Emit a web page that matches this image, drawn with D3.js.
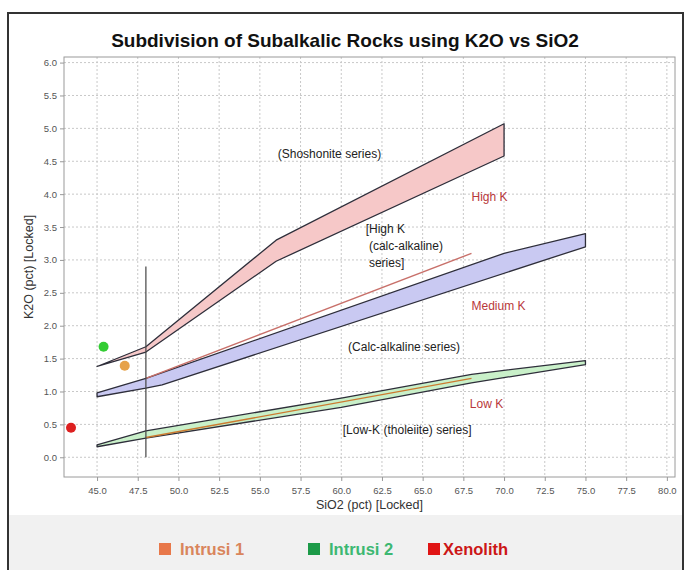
<!DOCTYPE html>
<html>
<head>
<meta charset="utf-8">
<script src="https://cdn.jsdelivr.net/npm/d3@7/dist/d3.min.js"></script>
<style>
  html, body { margin: 0; padding: 0; background: #fff; }
  svg { display: block; font-family: "Liberation Sans", Arial, sans-serif; }
</style>
</head>
<body>
<svg id="chart" width="687" height="570"></svg>
<script>
// Axis ticks
const xTicks = [45, 47.5, 50, 52.5, 55, 57.5, 60, 62.5, 65, 67.5, 70, 72.5, 75, 77.5, 80];
const yTicks = [0, 0.5, 1, 1.5, 2, 2.5, 3, 3.5, 4, 4.5, 5, 5.5, 6];

// Field boundary bands [SiO2, K2O]
const shoshoniteUpper = [[45, 1.38], [48, 1.68], [56, 3.3], [70, 5.07]];
const shoshoniteLower = [[45, 1.38], [48, 1.6], [56, 2.98], [70, 4.58]];
const mediumHighUpper = [[45, 0.98], [48, 1.2], [70, 3.1], [75, 3.4]];
const mediumHighLower = [[45, 0.92], [48, 1.05], [49, 1.1], [75, 3.2]];
const lowMediumUpper  = [[45, 0.19], [48, 0.4], [60, 0.9], [68, 1.26], [75, 1.47]];
const lowMediumLower  = [[45, 0.16], [48, 0.29], [60, 0.76], [68, 1.13], [75, 1.41]];

// Peccerillo & Taylor boundary lines
const highKLine = [[48, 1.2], [68, 3.1]];
const lowKLine  = [[48, 0.3], [68, 1.2]];
const basaltCut = [[48, 0], [48, 2.9]];

// Samples
const samples = [
  { name: "Intrusi 1", sio2: 46.7, k2o: 1.39 },
  { name: "Intrusi 2", sio2: 45.4, k2o: 1.68 },
  { name: "Xenolith",  sio2: 43.4, k2o: 0.45 }
];

// Field labels anchored in data units
const fieldLabels = [
  { text: "(Shoshonite series)", sio2: 56.1, k2o: 4.55, anchor: "start", red: false },
  { text: "High K", sio2: 68.0, k2o: 3.89, anchor: "start", red: true },
  { text: "[High K", sio2: 61.5, k2o: 3.41, anchor: "start", red: false },
  { text: "(calc-alkaline)", sio2: 61.7, k2o: 3.15, anchor: "start", red: false },
  { text: "series]", sio2: 61.7, k2o: 2.90, anchor: "start", red: false },
  { text: "Medium K", sio2: 68.0, k2o: 2.24, anchor: "start", red: true },
  { text: "(Calc-alkaline series)", sio2: 67.3, k2o: 1.62, anchor: "end", red: false },
  { text: "Low K", sio2: 67.9, k2o: 0.75, anchor: "start", red: true },
  { text: "[Low-K (tholeiite) series]", sio2: 68.0, k2o: 0.36, anchor: "end", red: false }
];

const sampleColors = { "Intrusi 1": "#e6a24a", "Intrusi 2": "#33cc33", "Xenolith": "#dd2020" };
const legendItems = [
  { name: "Intrusi 1", box: "#e8784a", text: "#d9855c", x: 159 },
  { name: "Intrusi 2", box: "#1c9a48", text: "#3db872", x: 308 },
  { name: "Xenolith",  box: "#e01414", text: "#cc1616", x: 428 }
];

const svg = d3.select("#chart");
const W = 687, H = 570;
const plot = { left: 64, right: 675, top: 57, bottom: 477 };

// Frame and legend strip
svg.append("rect").attr("x", 8).attr("y", 515).attr("width", 675).attr("height", H - 515)
  .attr("fill", "#f1f1f1");
svg.append("rect").attr("x", 8).attr("y", 13).attr("width", 675).attr("height", H)
  .attr("fill", "none").attr("stroke", "#333").attr("stroke-width", 2);

const x = d3.scaleLinear().domain([42.97, 80.5]).range([plot.left, plot.right]);
const y = d3.scaleLinear().domain([-0.3, 6.085]).range([plot.bottom, plot.top]);

// Grid
const grid = svg.append("g").attr("stroke", "#c8c8c8").attr("stroke-dasharray", "2,2").attr("stroke-width", 1);
grid.selectAll(".gx").data(xTicks).join("line")
  .attr("x1", d => x(d)).attr("x2", d => x(d)).attr("y1", plot.top).attr("y2", plot.bottom);
grid.selectAll(".gy").data(yTicks).join("line")
  .attr("x1", plot.left).attr("x2", plot.right).attr("y1", d => y(d)).attr("y2", d => y(d));

// Plot box
svg.append("rect").attr("x", plot.left).attr("y", plot.top)
  .attr("width", plot.right - plot.left).attr("height", plot.bottom - plot.top)
  .attr("fill", "none").attr("stroke", "#9a9a9a").attr("stroke-width", 1);

// Axes
const xAxis = svg.append("g").attr("transform", `translate(0,${plot.bottom})`)
  .call(d3.axisBottom(x).tickValues(xTicks).tickFormat(d3.format(".1f")).tickSize(4).tickPadding(6));
const yAxis = svg.append("g").attr("transform", `translate(${plot.left},0)`)
  .call(d3.axisLeft(y).tickValues(yTicks).tickFormat(d3.format(".1f")).tickSize(4).tickPadding(3));
[xAxis, yAxis].forEach(a => {
  a.select(".domain").remove();
  a.selectAll(".tick line").attr("stroke", "#999");
  a.selectAll(".tick text").attr("fill", "#555").attr("font-size", 9.5)
    .attr("font-family", "'Liberation Sans', Arial, sans-serif");
});

// Bands
const line = d3.line().x(d => x(d[0])).y(d => y(d[1]));
function band(upper, lower, fill) {
  const poly = upper.concat(lower.slice().reverse());
  svg.append("path").attr("d", line(poly) + "Z")
    .attr("fill", fill).attr("stroke", "#2e2e3a").attr("stroke-width", 1.3)
    .attr("stroke-linejoin", "round");
}
band(shoshoniteUpper, shoshoniteLower, "#f6c8c8");
band(mediumHighUpper, mediumHighLower, "#c9c9f2");
band(lowMediumUpper, lowMediumLower, "#c9f0c9");

svg.append("path").attr("d", line(highKLine)).attr("fill", "none")
  .attr("stroke", "#c8706a").attr("stroke-width", 1.4);
svg.append("path").attr("d", line(lowKLine)).attr("fill", "none")
  .attr("stroke", "#cc7a30").attr("stroke-width", 1.4);
svg.append("path").attr("d", line(basaltCut)).attr("fill", "none")
  .attr("stroke", "#444").attr("stroke-width", 1.2);

// Field labels
svg.append("g").selectAll("text").data(fieldLabels).join("text")
  .attr("x", d => x(d.sio2)).attr("y", d => y(d.k2o))
  .attr("text-anchor", d => d.anchor)
  .attr("font-size", 12)
  .attr("fill", d => d.red ? "#b8383a" : "#222")
  .text(d => d.text);

// Samples
svg.append("g").selectAll("circle").data(samples).join("circle")
  .attr("cx", d => x(d.sio2)).attr("cy", d => y(d.k2o)).attr("r", 5)
  .attr("fill", d => sampleColors[d.name]);

// Titles
svg.append("text").attr("x", 345).attr("y", 47).attr("text-anchor", "middle")
  .attr("font-size", 19).attr("font-weight", "bold").attr("fill", "#111")
  .text("Subdivision of Subalkalic Rocks using K2O vs SiO2");
svg.append("text").attr("x", (plot.left + plot.right) / 2).attr("y", 509).attr("text-anchor", "middle")
  .attr("font-size", 12.5).attr("fill", "#333").text("SiO2 (pct) [Locked]");
svg.append("text")
  .attr("transform", `translate(33,${(plot.top + plot.bottom) / 2}) rotate(-90)`)
  .attr("text-anchor", "middle").attr("font-size", 12.5).attr("fill", "#333")
  .text("K2O (pct) [Locked]");

// Legend
const lg = svg.append("g").selectAll("g").data(legendItems).join("g");
lg.append("rect").attr("x", d => d.x).attr("y", 543).attr("width", 12).attr("height", 12)
  .attr("fill", d => d.box);
lg.append("text").attr("x", d => d.x + (d.name === "Xenolith" ? 15 : 21)).attr("y", 555)
  .attr("font-size", 16.5).attr("font-weight", "bold").attr("fill", d => d.text)
  .text(d => d.name);
</script>
</body>
</html>
